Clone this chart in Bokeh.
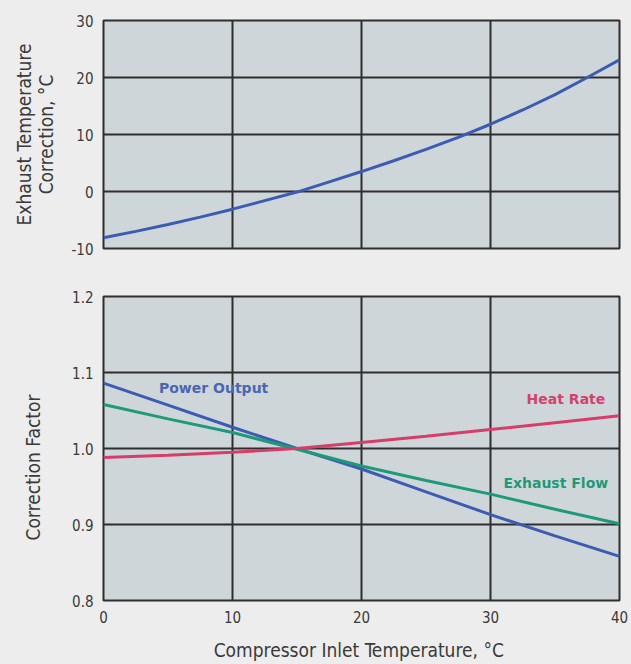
from bokeh.plotting import figure
from bokeh.layouts import column
from bokeh.models import Range1d, FixedTicker, Grid, Label, NumeralTickFormatter
from bokeh.embed import file_html
from bokeh.resources import INLINE

# ---- data ----
temp_fine = [0, 2.5, 5, 7.5, 10, 12.5, 15, 17.5, 20, 22.5, 25, 27.5, 30, 32.5, 35, 37.5, 40]
exhaust_temp_corr = [-8.1, -7.0, -5.8, -4.5, -3.1, -1.6, -0.1, 1.7, 3.5, 5.4, 7.4, 9.5,
                     11.8, 14.3, 17.0, 20.0, 23.1]

temp = [0, 5, 10, 15, 20, 25, 30, 35, 40]
power_output = [1.086, 1.057, 1.028, 1.000, 0.973, 0.943, 0.913, 0.885, 0.858]
exhaust_flow = [1.058, 1.039, 1.021, 0.999, 0.977, 0.958, 0.940, 0.920, 0.901]
heat_rate = [0.988, 0.991, 0.995, 1.000, 1.008, 1.016, 1.025, 1.034, 1.043]

x_ticks = [0, 10, 20, 30, 40]
top_y_ticks = [-10, 0, 10, 20, 30]
bot_y_ticks = [0.8, 0.9, 1.0, 1.1, 1.2]

top_ylabel = "Exhaust Temperature\nCorrection, \u00b0C"
bot_ylabel = "Correction Factor" + "\u00a0" * 7
xlabel = "Compressor Inlet Temperature,  \u00b0C"

series_labels = ["Power Output", "Heat Rate", "Exhaust Flow"]
label_x = [4.3, 32.8, 31.0]
label_y = [1.080, 1.065, 0.955]

# ---- style ----
PAGE_BG = "#ededed"
PLOT_BG = "#cfd6da"
GRID_C = "#2e2e2e"
TXT_C = "#3a3a3a"
AX_FONT = "DejaVu Sans Condensed"
BLUE = "#3b5cb2"
RED = "#d63d69"
GREEN = "#1e9a78"
label_colors = ["#4a66b2", "#d2436c", "#1f9a78"]


def style(p, yticks):
    p.background_fill_color = PLOT_BG
    p.border_fill_color = PAGE_BG
    p.outline_line_color = GRID_C
    p.outline_line_width = 2
    p.outline_line_alpha = 1.0
    p.add_layout(Grid(dimension=0, ticker=FixedTicker(ticks=x_ticks),
                      grid_line_color=GRID_C, grid_line_width=2))
    p.add_layout(Grid(dimension=1, ticker=FixedTicker(ticks=yticks),
                      grid_line_color=GRID_C, grid_line_width=2))
    for ax in p.yaxis:
        ax.ticker = FixedTicker(ticks=yticks)
        ax.axis_line_color = None
        ax.major_tick_line_color = None
        ax.minor_tick_line_color = None
        ax.major_tick_out = 0
        ax.major_tick_in = 0
        ax.major_label_text_font = AX_FONT
        ax.major_label_text_font_size = "15px"
        ax.major_label_text_color = TXT_C
        ax.major_label_standoff = 10
        ax.axis_label_text_font = AX_FONT
        ax.axis_label_text_font_size = "19px"
        ax.axis_label_text_font_style = "normal"
        ax.axis_label_text_color = TXT_C
        ax.axis_label_text_line_height = 1.0


# ---- top panel ----
p1 = figure(frame_width=516, frame_height=228, output_backend="svg",
            toolbar_location=None, x_axis_location=None,
            x_range=Range1d(0, 40), y_range=Range1d(-10, 30),
            min_border_left=103, min_border_right=12,
            min_border_top=20, min_border_bottom=10)
p1.grid.visible = False
style(p1, top_y_ticks)
p1.yaxis.axis_label = top_ylabel
p1.yaxis.axis_label_standoff = 11
p1.yaxis.major_label_overrides = {-10: "-10"}
p1.line(temp_fine, exhaust_temp_corr, line_color=BLUE, line_width=3)

# ---- bottom panel ----
p2 = figure(frame_width=516, frame_height=304, output_backend="svg",
            toolbar_location=None,
            x_range=Range1d(0, 40), y_range=Range1d(0.8, 1.2),
            min_border_left=103, min_border_right=12,
            min_border_top=38, min_border_bottom=48)
p2.grid.visible = False
style(p2, bot_y_ticks)
p2.yaxis.axis_label = bot_ylabel
p2.yaxis.axis_label_standoff = 25
p2.yaxis.formatter = NumeralTickFormatter(format="0.0")
xa = p2.xaxis[0]
xa.ticker = FixedTicker(ticks=x_ticks)
xa.axis_line_color = None
xa.major_tick_line_color = None
xa.minor_tick_line_color = None
xa.major_tick_out = 0
xa.major_tick_in = 0
xa.major_label_text_font = AX_FONT
xa.major_label_text_font_size = "15px"
xa.major_label_text_color = TXT_C
xa.major_label_standoff = 10
xa.axis_label = xlabel
xa.axis_label_text_font = AX_FONT
xa.axis_label_text_font_size = "19px"
xa.axis_label_text_font_style = "normal"
xa.axis_label_text_color = TXT_C
xa.axis_label_standoff = 13

p2.line(temp, power_output, line_color=BLUE, line_width=3)
p2.line(temp, exhaust_flow, line_color=GREEN, line_width=3)
p2.line(temp, heat_rate, line_color=RED, line_width=3)

for txt, x, y, c in zip(series_labels, label_x, label_y, label_colors):
    p2.add_layout(Label(x=x, y=y, text=txt, text_color=c,
                        text_font="DejaVu Sans", text_font_style="bold",
                        text_font_size="14px", text_baseline="middle",
                        text_align="left"))

layout = column(p1, p2, spacing=0)
html = file_html(layout, INLINE)
html = html.replace("<head>", "<head><style>body{background:%s;}</style>" % PAGE_BG, 1)
open("out.html", "w").write(html)
